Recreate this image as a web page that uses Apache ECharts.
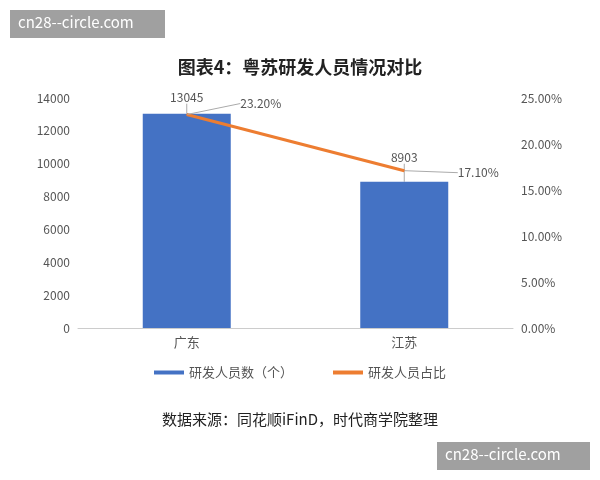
<!DOCTYPE html>
<html><head><meta charset="utf-8">
<script src="https://cdn.jsdelivr.net/npm/echarts@6/dist/echarts.min.js"></script>
<style>html,body{margin:0;padding:0;background:#fff}#c{width:600px;height:480px}</style>
</head><body><div id="c"></div>
<script>
const categories = ['广东', '江苏'];
const staffCounts = [13045, 8903];
const staffShares = [23.2, 17.1];
const leftTicks = [0, 2000, 4000, 6000, 8000, 10000, 12000, 14000];
const rightTicks = [0, 5, 10, 15, 20, 25];

const chart = echarts.init(document.getElementById('c'));
const font = '"Noto Sans CJK SC", "Noto Sans", sans-serif';
chart.setOption({
  animation: false,
  textStyle: { fontFamily: font },
  title: { text: '图表4：粤苏研发人员情况对比', left: 'center', top: 53,
    textStyle: { fontSize: 18, fontWeight: 'bold', color: '#222', fontFamily: font } },
  grid: { left: 78, right: 87, top: 98, bottom: 152 },
  legend: { bottom: 96, itemGap: 40, itemWidth: 30, itemHeight: 4,
    textStyle: { fontSize: 13, color: '#555' },
    data: [{ name: '研发人员数（个）', icon: 'rect' }, { name: '研发人员占比', icon: 'rect' }] },
  xAxis: { type: 'category', data: categories,
    axisLine: { lineStyle: { color: '#ccc' } }, axisTick: { show: false },
    axisLabel: { color: '#555', fontSize: 13 } },
  yAxis: [
    { type: 'value', min: leftTicks[0], max: leftTicks[leftTicks.length - 1], interval: 2000,
      splitLine: { show: false }, axisLabel: { color: '#555', fontSize: 12, formatter: v => String(v) } },
    { type: 'value', min: rightTicks[0], max: rightTicks[rightTicks.length - 1], interval: 5,
      splitLine: { show: false }, axisLabel: { color: '#555', fontSize: 12, formatter: v => v.toFixed(2) + '%' } }
  ],
  series: [
    { name: '研发人员数（个）', type: 'bar', data: staffCounts, barWidth: 88,
      itemStyle: { color: '#4472C4' },
      label: { show: true, position: 'top', distance: 10, color: '#555', fontSize: 12 },
      labelLayout: p => ({ dy: p.dataIndex === 1 ? -8 : 0 }),
      labelLine: { show: true, lineStyle: { color: '#aaa', width: 1 } } },
    { name: '研发人员占比', type: 'line', yAxisIndex: 1, data: staffShares,
      symbol: 'circle', symbolSize: 1, showSymbol: true,
      lineStyle: { color: '#ED7D31', width: 3 }, itemStyle: { color: '#ED7D31' },
      label: { show: true, position: 'right', color: '#555', fontSize: 12, formatter: p => p.value.toFixed(2) + '%' },
      labelLayout: p => (p.dataIndex === 0 ? { dx: 48, dy: -11 } : { dx: 48, dy: 2 }),
      labelLine: { show: true, lineStyle: { color: '#aaa', width: 1 } } }
  ],
  graphic: [
    { type: 'text', left: 'center', top: 412, style: { text: '数据来源：同花顺iFinD，时代商学院整理', fontSize: 15, fill: '#222', fontFamily: font } },
    { type: 'rect', left: 10, top: 10, shape: { width: 155, height: 28 }, style: { fill: '#a0a0a0' } },
    { type: 'text', left: 18, top: 15, style: { text: 'cn28--circle.com', fontSize: 15, fill: '#fff', fontFamily: font } },
    { type: 'rect', left: 437, top: 442, shape: { width: 153, height: 28 }, style: { fill: '#a0a0a0' } },
    { type: 'text', left: 445, top: 447, style: { text: 'cn28--circle.com', fontSize: 15, fill: '#fff', fontFamily: font } }
  ]
});
</script></body></html>
